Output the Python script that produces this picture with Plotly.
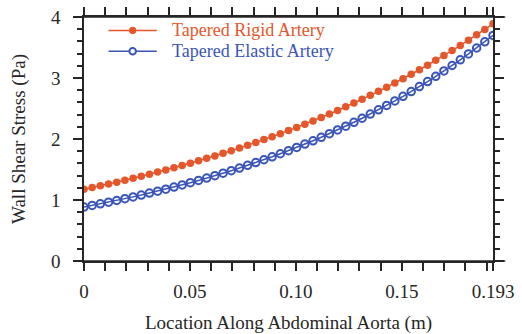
import plotly.graph_objects as go

location_m = [0.0, 0.00386, 0.00772, 0.01158, 0.01544, 0.0193, 0.02316, 0.02702, 0.03088, 0.03474,
              0.0386, 0.04246, 0.04632, 0.05018, 0.05404, 0.0579, 0.06176, 0.06562, 0.06948, 0.07334,
              0.0772, 0.08106, 0.08492, 0.08878, 0.09264, 0.0965, 0.10036, 0.10422, 0.10808, 0.11194,
              0.1158, 0.11966, 0.12352, 0.12738, 0.13124, 0.1351, 0.13896, 0.14282, 0.14668, 0.15054,
              0.1544, 0.15826, 0.16212, 0.16598, 0.16984, 0.1737, 0.17756, 0.18142, 0.18528, 0.18914, 0.193]

rigid_wss = [1.175, 1.203, 1.233, 1.262, 1.293, 1.324, 1.356, 1.389, 1.423, 1.457,
             1.492, 1.529, 1.566, 1.604, 1.643, 1.683, 1.723, 1.765, 1.808, 1.851,
             1.896, 1.943, 1.990, 2.038, 2.087, 2.138, 2.190, 2.243, 2.297, 2.353,
             2.410, 2.468, 2.528, 2.589, 2.652, 2.716, 2.782, 2.849, 2.918, 2.989,
             3.061, 3.135, 3.211, 3.289, 3.369, 3.450, 3.534, 3.619, 3.707, 3.797, 3.889]

elastic_wss = [0.885, 0.911, 0.937, 0.964, 0.992, 1.021, 1.051, 1.081, 1.113, 1.145,
               1.178, 1.212, 1.247, 1.284, 1.321, 1.359, 1.399, 1.439, 1.481, 1.524,
               1.568, 1.614, 1.660, 1.708, 1.758, 1.809, 1.862, 1.916, 1.971, 2.028,
               2.087, 2.148, 2.210, 2.274, 2.340, 2.408, 2.478, 2.550, 2.624, 2.700,
               2.778, 2.859, 2.942, 3.027, 3.115, 3.205, 3.298, 3.394, 3.492, 3.593, 3.698]

x_tick_vals = [0, 0.05, 0.10, 0.15, 0.193]
x_tick_text = ["0", "0.05", "0.10", "0.15", "0.193"]
y_tick_vals = [0, 1, 2, 3, 4]
y_tick_text = ["0", "1", "2", "3", "4"]

series_names = ["Tapered Rigid Artery", "Tapered Elastic Artery"]
RED = "#e5562b"
BLUE = "#3a55b8"
INK = "#262626"
FONT = "Liberation Serif"

fig = go.Figure()
fig.add_trace(go.Scatter(x=location_m, y=rigid_wss, mode="lines+markers", name=series_names[0],
                         line=dict(color=RED, width=1.5),
                         marker=dict(symbol="circle", size=7.5, color=RED), showlegend=False))
fig.add_trace(go.Scatter(x=location_m, y=elastic_wss, mode="lines+markers", name=series_names[1],
                         line=dict(color=BLUE, width=1.5),
                         marker=dict(symbol="circle-open", size=7.5, color=BLUE, line=dict(width=2)),
                         showlegend=False))
# invisible trace to carry top/right axes
fig.add_trace(go.Scatter(x=[location_m[0]], y=[rigid_wss[0]], xaxis="x2", yaxis="y2",
                         mode="markers", marker=dict(opacity=0), showlegend=False, hoverinfo="skip"))

tickfont = dict(family=FONT, size=19, color=INK)
common_x = dict(range=[0, 0.193], showgrid=False, zeroline=False, showline=True, linecolor=INK,
                linewidth=1.5, ticks="outside", ticklen=8, tickwidth=1.5, tickcolor=INK,
                tickvals=x_tick_vals, automargin=False,
                minor=dict(dtick=0.01, tick0=0, ticks="outside", ticklen=8, tickwidth=1.5, tickcolor=INK))
common_y = dict(range=[0, 4], showgrid=False, zeroline=False, showline=True, linecolor=INK,
                linewidth=1.5, ticks="outside", ticklen=9, tickwidth=1.5, tickcolor=INK,
                tickvals=y_tick_vals, automargin=False,
                minor=dict(dtick=0.2, tick0=0, ticks="outside", ticklen=5, tickwidth=1.5, tickcolor=INK))

fig.update_layout(
    width=522, height=334, margin=dict(l=84, r=29, t=17, b=73),
    paper_bgcolor="white", plot_bgcolor="white",
    font=dict(family=FONT, size=19, color=INK),
    xaxis=dict(**common_x, ticktext=x_tick_text, tickfont=tickfont, ticklabelstandoff=4,
               title=dict(text="Location Along Abdominal Aorta (m)", font=dict(family=FONT, size=19, color=INK),
                          standoff=15)),
    yaxis=dict(**common_y, ticktext=y_tick_text, tickfont=tickfont, ticklabelstandoff=9,
               title=dict(text="Wall Shear Stress (Pa)", font=dict(family=FONT, size=19, color=INK),
                          standoff=20)),
    xaxis2=dict(**common_x, overlaying="x", side="top", showticklabels=False, matches="x"),
    yaxis2=dict(**common_y, overlaying="y", side="right", showticklabels=False, matches="y"),
)

# extended axis lines (overshoot like in the original)
for yy in (0, 1):
    fig.add_shape(type="line", xref="paper", yref="paper", x0=-0.022, x1=1.03, y0=yy, y1=yy,
                  line=dict(color=INK, width=1.5))

# custom legend
legend_rows = [(0.945, RED, "circle"), (0.86, BLUE, "open")]
for (yy, col, kind), name in zip(legend_rows, series_names):
    fig.add_shape(type="line", xref="paper", yref="paper", x0=0.06, x1=0.178, y0=yy, y1=yy,
                  line=dict(color=col, width=1.5))
    cx, r = 0.119, 0.008
    fig.add_shape(type="circle", xref="paper", yref="paper", x0=cx - r, x1=cx + r,
                  y0=yy - r * 409 / 244, y1=yy + r * 409 / 244,
                  line=dict(color=col, width=2 if kind == "open" else 1),
                  fillcolor=col if kind == "circle" else "white")
    fig.add_annotation(xref="paper", yref="paper", x=0.21, y=yy, xanchor="left", yanchor="middle",
                       text=name, showarrow=False, font=dict(family=FONT, size=18, color=col))

fig.write_html("out.html")
